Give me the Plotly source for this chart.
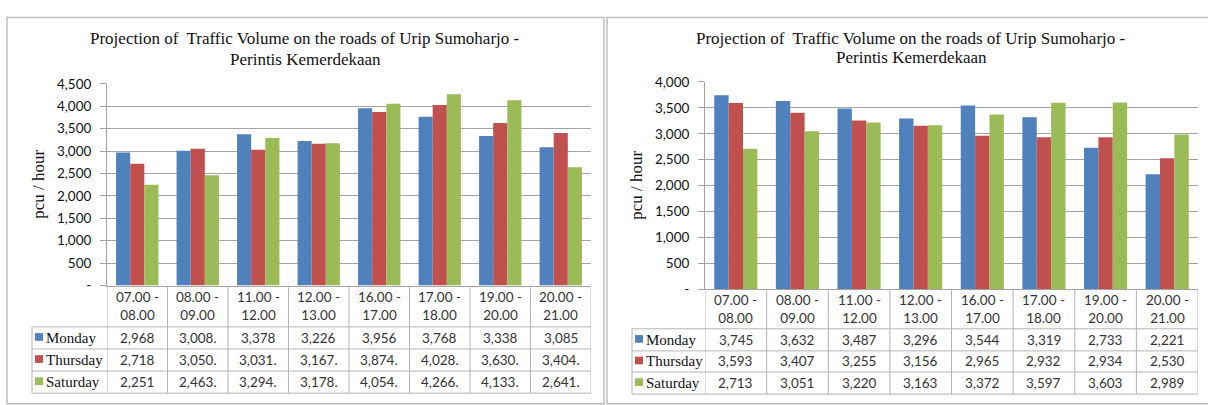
import plotly.graph_objects as go

W, H = 1208, 405

# ---- data -------------------------------------------------------------
time_slots = ["07.00 - 08.00", "08.00 - 09.00", "11.00 - 12.00", "12.00 - 13.00",
              "16.00 - 17.00", "17.00 - 18.00", "19.00 - 20.00", "20.00 - 21.00"]
days = ["Monday", "Thursday", "Saturday"]
day_colors = ["#4F81BD", "#C0504D", "#9BBB59"]

# first section of road
left_monday = [2968, 3008, 3378, 3226, 3956, 3768, 3338, 3085]
left_thursday = [2718, 3050, 3031, 3167, 3874, 4028, 3630, 3404]
left_saturday = [2251, 2463, 3294, 3178, 4054, 4266, 4133, 2641]
# cells whose value is cut off by the column width (shown with a trailing dot)
left_cut_monday = [0, 1, 0, 0, 0, 0, 0, 0]
left_cut_thursday = [0, 1, 1, 1, 1, 1, 1, 1]
left_cut_saturday = [0, 1, 1, 1, 1, 1, 1, 1]

# second section of road
right_monday = [3745, 3632, 3487, 3296, 3544, 3319, 2733, 2221]
right_thursday = [3593, 3407, 3255, 3156, 2965, 2932, 2934, 2530]
right_saturday = [2713, 3051, 3220, 3163, 3372, 3597, 3603, 2989]

left_ticks = [0, 500, 1000, 1500, 2000, 2500, 3000, 3500, 4000, 4500]
left_tick_text = ["-", "500", "1,000", "1,500", "2,000", "2,500", "3,000", "3,500", "4,000", "4,500"]
right_ticks = [0, 500, 1000, 1500, 2000, 2500, 3000, 3500, 4000]
right_tick_text = ["-", "500", "1,000", "1,500", "2,000", "2,500", "3,000", "3,500", "4,000"]

title_lines = ["Projection of  Traffic Volume on the roads of Urip Sumoharjo -",
               "Perintis Kemerdekaan"]
y_title = "pcu / hour"

# ---- styling ----------------------------------------------------------
SERIF = "Liberation Serif"
SANS = "Lato"
GRID = "#a3a3a3"
TABLE_LINE = "#b4b4b4"
PANEL_LINE = "#bdbdbd"


def px_x(p):
    return p / W


def px_y(p):
    return 1 - p / H


fig = go.Figure()
shapes = []
annotations = []


def panel(xa, ya, values, cuts, ticks, tick_text, ymax, geo):
    """One chart with its data table underneath.
    geo: pixel geometry (panel box, plot box, table rows)."""
    xid = "x" if xa == 1 else f"x{xa}"
    yid = "y" if ya == 1 else f"y{ya}"

    for name, color, vals in zip(days, day_colors, values):
        fig.add_trace(go.Bar(
            x=time_slots, y=vals, name=name, xaxis=xid, yaxis=yid,
            marker=dict(color=color, line=dict(width=0)), showlegend=False,
        ))

    xkey = "xaxis" if xa == 1 else f"xaxis{xa}"
    ykey = "yaxis" if ya == 1 else f"yaxis{ya}"
    fig.layout[xkey] = dict(
        domain=[px_x(geo["plot_l"]), px_x(geo["plot_r"])], anchor=yid,
        type="category", range=[-0.5, len(time_slots) - 0.5],
        showticklabels=False, ticks="", showgrid=False,
        showline=True, linecolor=GRID, linewidth=1, zeroline=False,
    )
    fig.layout[ykey] = dict(
        domain=[px_y(geo["plot_b"]), px_y(geo["plot_t"])], anchor=xid,
        range=[0, ymax], tickvals=ticks, ticktext=tick_text,
        ticks="outside", ticklen=6, tickcolor=GRID, ticklabelstandoff=6,
        showline=True, linecolor=GRID, linewidth=1,
        showgrid=True, gridcolor=GRID, gridwidth=1, zeroline=False,
        tickfont=dict(family=SANS, size=13.5, color="#111"),
    )

    # panel frame
    shapes.append(dict(type="rect", xref="paper", yref="paper",
                       x0=px_x(geo["box_l"]), x1=px_x(geo["box_r"]),
                       y0=px_y(geo["box_b"]), y1=px_y(geo["box_t"]),
                       line=dict(color=PANEL_LINE, width=1.5), layer="below"))

    # two-line title and y-axis title
    cx = px_x((geo["box_l"] + geo["box_r"]) / 2)
    for line, ty in zip(title_lines, geo["title_y"]):
        annotations.append(dict(xref="paper", yref="paper", x=cx, y=px_y(ty),
                                xanchor="center", yanchor="middle", showarrow=False,
                                text=line,
                                font=dict(family=SERIF, size=17, color="#111")))
    annotations.append(dict(xref="paper", yref="paper",
                            x=px_x(geo["ytitle_x"]), y=px_y((geo["plot_t"] + geo["plot_b"]) / 2),
                            xanchor="center", yanchor="middle", showarrow=False,
                            textangle=-90, text=y_title,
                            font=dict(family=SERIF, size=17, color="#111")))

    # data table: column lines at the category boundaries
    rows = geo["rows"]          # pixel y of row borders: header bottom, ..., table bottom
    n = len(time_slots)
    for i in range(n + 1):
        shapes.append(dict(type="line", xref=xid, yref="paper",
                           x0=i - 0.5, x1=i - 0.5,
                           y0=px_y(geo["plot_b"]), y1=px_y(rows[-1]),
                           line=dict(color=TABLE_LINE, width=1)))
    shapes.append(dict(type="line", xref="paper", yref="paper",
                       x0=px_x(geo["table_l"]), x1=px_x(geo["table_l"]),
                       y0=px_y(rows[0]), y1=px_y(rows[-1]),
                       line=dict(color=TABLE_LINE, width=1)))
    for r in rows:
        shapes.append(dict(type="line", xref="paper", yref="paper",
                           x0=px_x(geo["table_l"]), x1=px_x(geo["plot_r"]),
                           y0=px_y(r), y1=px_y(r),
                           line=dict(color=TABLE_LINE, width=1)))

    # header cells
    for cat in time_slots:
        a, b = cat.split(" - ")
        annotations.append(dict(xref=xid, yref="paper", x=cat,
                                y=px_y((geo["plot_b"] + rows[0]) / 2),
                                xanchor="center", yanchor="middle", showarrow=False,
                                text=f"{a} -<br>{b}",
                                font=dict(family=SANS, size=13.5, color="#333")))

    # body cells with legend keys
    for k, (name, color, vals, cut) in enumerate(zip(days, day_colors, values, cuts)):
        top, bot = rows[k], rows[k + 1]
        mid = (top + bot) / 2
        shapes.append(dict(type="rect", xref="paper", yref="paper",
                           x0=px_x(geo["table_l"] + 3), x1=px_x(geo["table_l"] + 11),
                           y0=px_y(mid + 3), y1=px_y(mid - 5),
                           fillcolor=color, line=dict(width=0)))
        annotations.append(dict(xref="paper", yref="paper",
                                x=px_x(geo["table_l"] + 12), y=px_y(mid),
                                xanchor="left", yanchor="middle", showarrow=False,
                                text=name, font=dict(family=SERIF, size=15, color="#111")))
        for cat, v, c in zip(time_slots, vals, cut):
            label = f"{v:,}" + ("." if c else "")
            annotations.append(dict(xref=xid, yref="paper", x=cat, y=px_y(mid),
                                    xanchor="center", yanchor="middle", showarrow=False,
                                    text=label,
                                    font=dict(family=SANS, size=13.5, color="#333")))


panel(1, 1,
      [left_monday, left_thursday, left_saturday],
      [left_cut_monday, left_cut_thursday, left_cut_saturday],
      left_ticks, left_tick_text, 4500,
      dict(box_l=7, box_r=604, box_t=10, box_b=412,
           plot_l=107, plot_r=591, plot_t=79, plot_b=289,
           table_l=32, rows=[332, 355, 378, 401],
           title_y=[32, 54], ytitle_x=39))

panel(2, 2,
      [right_monday, right_thursday, right_saturday],
      [[0] * 8, [0] * 8, [0] * 8],
      right_ticks, right_tick_text, 4000,
      dict(box_l=607, box_r=1215, box_t=10, box_b=412,
           plot_l=705, plot_r=1198, plot_t=77, plot_b=293,
           table_l=632, rows=[334, 357, 379, 402],
           title_y=[32, 52], ytitle_x=637))

fig.update_layout(
    width=W, height=H,
    margin=dict(l=0, r=0, t=0, b=0),
    paper_bgcolor="white", plot_bgcolor="white",
    barmode="group", bargap=0.3, bargroupgap=0,
    shapes=shapes, annotations=annotations,
    showlegend=False,
)

fig.write_html("out.html")
